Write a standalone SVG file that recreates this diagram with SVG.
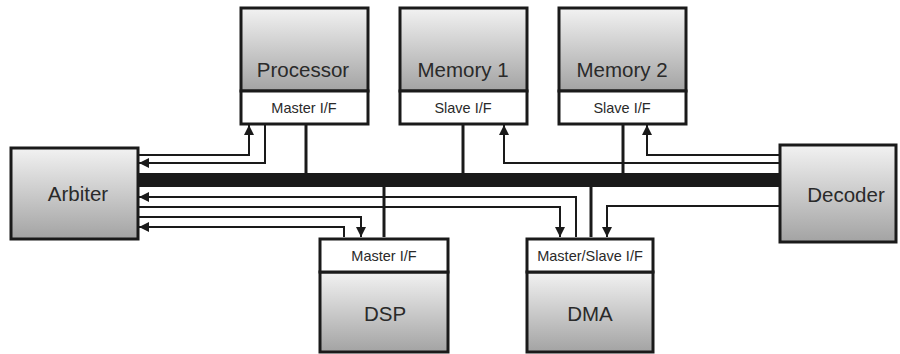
<svg xmlns="http://www.w3.org/2000/svg" width="900" height="354" viewBox="0 0 900 354">
<style>
.box{stroke:#1a1a1a;stroke-width:3}
.if{fill:#fff;stroke:#1a1a1a;stroke-width:3}
.big{font-family:"Liberation Sans",Arial,sans-serif;font-size:20.5px;fill:#2a2a2a;text-anchor:middle}
.small{font-family:"Liberation Sans",Arial,sans-serif;font-size:14.5px;fill:#2a2a2a;text-anchor:middle}
.w{fill:none;stroke:#1a1a1a;stroke-width:2}
.bc{fill:none;stroke:#1a1a1a;stroke-width:3}
</style>
<defs>
<linearGradient id="g" x1="0" y1="0" x2="0" y2="1">
<stop offset="0" stop-color="#f2f2f2"/>
<stop offset="1" stop-color="#a3a3a3"/>
</linearGradient>
<marker id="a" markerUnits="userSpaceOnUse" markerWidth="10" markerHeight="10" viewBox="0 0 10 10" refX="10" refY="5" orient="auto">
<path d="M0,0 L10,5 L0,10 Z" fill="#1a1a1a"/>
</marker>
</defs>
<rect width="900" height="354" fill="#fff"/>
<g id="connectors">
<rect x="138" y="173" width="642" height="14" fill="#1a1a1a"/>
<path class="w" d="M138,155 H249 V125" marker-end="url(#a)"/>
<path class="w" d="M265,125 V163 H139" marker-end="url(#a)"/>
<path class="bc" d="M306,125 V174"/>
<path class="bc" d="M463,125 V174"/>
<path class="bc" d="M623,125 V174"/>
<path class="w" d="M780,163 H504 V125" marker-end="url(#a)"/>
<path class="w" d="M780,155 H647 V125" marker-end="url(#a)"/>
<path class="bc" d="M384,186 V237"/>
<path class="bc" d="M591,186 V237"/>
<path class="w" d="M576,237 V197 H139" marker-end="url(#a)"/>
<path class="w" d="M138,207 H560 V237" marker-end="url(#a)"/>
<path class="w" d="M138,217 H361 V237" marker-end="url(#a)"/>
<path class="w" d="M344,237 V227 H139" marker-end="url(#a)"/>
<path class="w" d="M780,206 H607 V237" marker-end="url(#a)"/>
</g>
<g id="arbiter">
<rect class="box" x="11" y="148" width="127" height="91" fill="url(#g)"/>
<text class="big" x="78" y="201">Arbiter</text>
</g>
<g id="decoder">
<rect class="box" x="780" y="145" width="116" height="97" fill="url(#g)"/>
<text class="big" x="846" y="202">Decoder</text>
</g>
<g id="processor">
<rect class="box" x="241" y="8" width="127" height="83" fill="url(#g)"/>
<rect class="if" x="241" y="91" width="127" height="33"/>
<text class="big" x="303" y="77">Processor</text>
<text class="small" x="304" y="113">Master I/F</text>
</g>
<g id="memory1">
<rect class="box" x="400" y="8" width="127" height="83" fill="url(#g)"/>
<rect class="if" x="400" y="91" width="127" height="33"/>
<text class="big" x="463" y="77">Memory 1</text>
<text class="small" x="463" y="113">Slave I/F</text>
</g>
<g id="memory2">
<rect class="box" x="559" y="8" width="127" height="83" fill="url(#g)"/>
<rect class="if" x="559" y="91" width="127" height="33"/>
<text class="big" x="622" y="77">Memory 2</text>
<text class="small" x="622" y="113">Slave I/F</text>
</g>
<g id="dsp">
<rect class="box" x="320" y="272" width="128" height="80" fill="url(#g)"/>
<rect class="if" x="320" y="239" width="128" height="33"/>
<text class="small" x="384" y="261">Master I/F</text>
<text class="big" x="385" y="321">DSP</text>
</g>
<g id="dma">
<rect class="box" x="527" y="272" width="126" height="80" fill="url(#g)"/>
<rect class="if" x="527" y="239" width="126" height="33"/>
<text class="small" x="590" y="261">Master/Slave I/F</text>
<text class="big" x="590" y="321">DMA</text>
</g>
</svg>
